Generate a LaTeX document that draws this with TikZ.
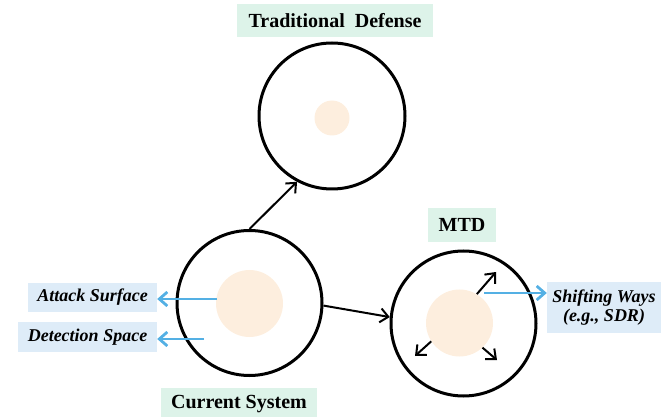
\documentclass[tikz,border=0pt]{standalone}
\usepackage{fontspec}
\setmainfont{Liberation Serif}
\usetikzlibrary{arrows.meta}

\definecolor{mint}{RGB}{221,243,233}
\definecolor{skyfill}{RGB}{222,236,248}
\definecolor{peach}{RGB}{253,238,222}
\definecolor{arrowblue}{RGB}{84,176,228}

\tikzset{
  titlebox/.style={fill=mint, inner sep=0pt, font=\fontsize{20}{24}\selectfont\bfseries},
  notebox/.style={fill=skyfill, inner sep=0pt, align=center,
                  font=\fontsize{18}{21}\selectfont\bfseries\itshape},
  ring/.style={circle, draw=black, line width=3pt, inner sep=0pt, minimum size=#1},
  core/.style={circle, fill=peach, inner sep=0pt, minimum size=#1},
  flow/.style={-{Straight Barb[length=8pt,width=14pt,line width=2pt]}, line width=2pt, black},
  bluearrow/.style={-{Straight Barb[length=8pt,width=14pt,line width=2.8pt]}, line width=2.8pt, arrowblue},
}

\begin{document}
\begin{tikzpicture}[x=1pt, y=-1pt]
  \useasboundingbox (0,0) rectangle (665,417);

  % labels
  \node[titlebox, minimum width=196pt, minimum height=33pt] (tdlabel) at (335,20.5) {Traditional\ \ Defense};
  \node[titlebox, minimum width=68pt, minimum height=34pt] (mtdlabel) at (462,225) {MTD};
  \node[titlebox, minimum width=156pt, minimum height=32pt] (cslabel) at (239,404) {Current System};

  \node[notebox, minimum width=129pt, minimum height=29pt] (attack) at (92.5,297.5) {Attack Surface};
  \node[notebox, minimum width=139pt, minimum height=30pt] (detect) at (87.5,337) {Detection Space};
  \node[notebox, minimum width=114pt, minimum height=51pt] (shift) at (604,307.5) {Shifting Ways\\[-2pt](e.g., SDR)};

  % inner cores
  \node[core=35pt] (tdcore) at (332,118) {};
  \node[core=67pt] (cscore) at (249.5,303.5) {};
  \node[core=67pt] (mtdcore) at (459.5,323) {};

  % outer rings
  \node[ring=146pt] (td) at (332,116) {};
  \node[ring=145pt] (cs) at (249.5,303) {};
  \node[ring=145pt] (mtd) at (463.5,323.5) {};

  % transitions from the current system
  \draw[flow] (cs.north) -- (td.242);
  \draw[flow] (cs.-2) -- (mtd.175);

  % outward shifts of the moving target
  \coordinate (s1) at (496,272);
  \coordinate (s2) at (415,356);
  \coordinate (s3) at (497,360);
  \draw[flow] (mtdcore.59) -- (s1);
  \draw[flow] (mtdcore.213) -- (s2);
  \draw[flow] (mtdcore.-47) -- (s3);

  % annotation arrows
  \coordinate (a1) at (217,299);
  \coordinate (a2) at (204,339);
  \coordinate (a3) at (484,293);
  \draw[bluearrow] (a1) -- (a1 -| attack.east);
  \draw[bluearrow] (a2) -- (a2 -| detect.east);
  \draw[bluearrow] (a3) -- (a3 -| shift.west);
\end{tikzpicture}
\end{document}
